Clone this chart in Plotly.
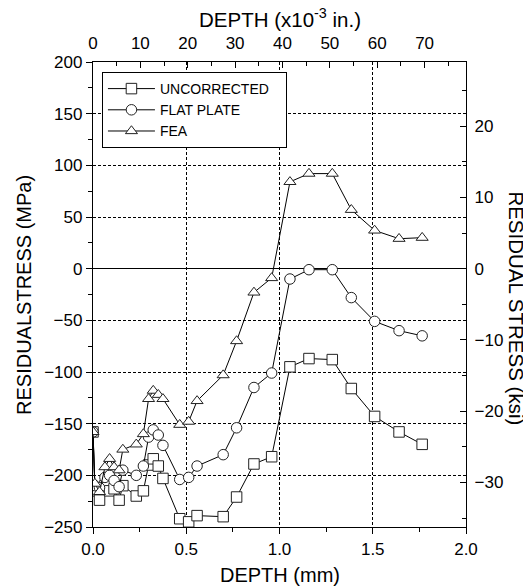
import plotly.graph_objects as go

# ---- data ----
depth_mm = [0, 0.01, 0.035, 0.064, 0.089, 0.113, 0.14, 0.16, 0.232, 0.27, 0.298, 0.323, 0.350, 0.375,
            0.465, 0.513, 0.558, 0.698, 0.770, 0.863, 0.958, 1.056, 1.158, 1.283, 1.385, 1.510, 1.641, 1.765]
uncorrected = [-158, -215, -224, -210, -215, -213, -224, -210, -220, -215, -190, -184, -191, -203,
               -242, -245, -239, -240, -221, -189, -182, -95, -87, -88, -116, -143, -158, -170]
flat_plate = [-158, -210, -212, -202, -200, -205, -211, -195, -200, -191, -163, -156, -161, -171,
              -204, -202, -191, -180, -154, -115, -101, -10, -1, -1, -28, -51, -60, -65]
fea = [-158, -208, -216, -192, -184, -192, -195, -175, -170, -160, -126, -118, -122, -126,
       -151, -148, -128, -103, -70, -23, -9, 84, 92, 92, 57, 37, 29, 30]

series_names = ["UNCORRECTED", "FLAT PLATE", "FEA"]
series_symbols = ["square", "circle", "triangle-up"]

x_range_mm = [0, 2.0]
y_range_mpa = [-250, 200]
MM_PER_MIL = 0.0254          # 1e-3 in = 0.0254 mm
MPA_PER_KSI = 6.894757

top_ticks = [0, 10, 20, 30, 40, 50, 60, 70]
right_ticks = [-30, -20, -10, 0, 10, 20]

FONT = "Liberation Sans, Arial, sans-serif"
PAD = "\u00a0" * 3   # widens the legend box a little, invisible

fig = go.Figure()
for name, sym, vals in zip(series_names, series_symbols, [uncorrected, flat_plate, fea]):
    fig.add_trace(go.Scatter(
        x=depth_mm, y=vals, name=name + PAD, mode="lines+markers",
        line=dict(color="black", width=1),
        marker=dict(symbol=sym, size=10.5, color="white",
                    line=dict(color="#222", width=1)),
    ))

# invisible traces to activate the secondary (unit-converted) axes
fig.add_trace(go.Scatter(x=[0], y=[0], xaxis="x2", yaxis="y", mode="markers",
                         marker=dict(opacity=0), showlegend=False, hoverinfo="skip"))
fig.add_trace(go.Scatter(x=[0], y=[0], xaxis="x", yaxis="y2", mode="markers",
                         marker=dict(opacity=0), showlegend=False, hoverinfo="skip"))

axis_common = dict(showline=True, linecolor="black", linewidth=1.3,
                   tickfont=dict(family=FONT, size=17, color="black"),
                   tickcolor="black", ticklen=6, tickwidth=1)

fig.update_layout(
    width=523, height=579,
    margin=dict(l=85, r=65, t=54, b=60),
    paper_bgcolor="white", plot_bgcolor="white",
    font=dict(family=FONT, color="black"),
    xaxis=dict(range=x_range_mm, dtick=0.5, tick0=0, tickformat=".1f", ticks="outside",
               showgrid=True, gridcolor="black", gridwidth=1, griddash="3px,2px",
               zeroline=False,
               minor=dict(dtick=0.25, ticks="outside", ticklen=4, tickcolor="black", showgrid=False),
               **axis_common),
    xaxis2=dict(range=[x_range_mm[0] / MM_PER_MIL, x_range_mm[1] / MM_PER_MIL],
                overlaying="x", side="top", anchor="y",
                tickvals=top_ticks, ticks="inside", showgrid=False, zeroline=False,
                ticklabelstandoff=5,
                minor=dict(dtick=5, tick0=0, ticks="inside", ticklen=4, tickcolor="black", showgrid=False),
                **axis_common),
    yaxis=dict(range=y_range_mpa, dtick=50, tick0=0, ticks="outside",
               showgrid=True, gridcolor="black", gridwidth=1, griddash="3px,2px",
               zeroline=True, zerolinecolor="black", zerolinewidth=1,
               minor=dict(dtick=25, ticks="outside", ticklen=4, tickcolor="black", showgrid=False),
               **axis_common),
    yaxis2=dict(range=[y_range_mpa[0] / MPA_PER_KSI, y_range_mpa[1] / MPA_PER_KSI],
                overlaying="y", side="right", anchor="x",
                tickvals=right_ticks, ticks="inside", showgrid=False, zeroline=False,
                ticklabelstandoff=4,
                minor=dict(dtick=5, tick0=0, ticks="inside", ticklen=4, tickcolor="black", showgrid=False),
                **axis_common),
    legend=dict(x=0.024, y=0.9785, xanchor="left", yanchor="top",
                bgcolor="white", bordercolor="black", borderwidth=1,
                font=dict(family=FONT, size=14, color="black"),
                itemwidth=47, tracegroupgap=0),
    showlegend=True,
)

ann_font = dict(family=FONT, size=20, color="black")
fig.add_annotation(text="DEPTH (mm)", xref="paper", yref="paper", x=0.5, y=-0.103,
                   showarrow=False, font=ann_font, xanchor="center", yanchor="middle")
fig.add_annotation(text="DEPTH (x10<sup>-3</sup> in.)", xref="paper", yref="paper", x=0.5, y=1.062,
                   showarrow=False, font=dict(family=FONT, size=20.5, color="black"),
                   xanchor="center", yanchor="bottom")
fig.add_annotation(text="RESIDUALSTRESS (MPa)", xref="paper", yref="paper", x=-0.185, y=0.499,
                   showarrow=False, font=ann_font, textangle=-90, xanchor="center", yanchor="middle")
fig.add_annotation(text="RESIDUAL STRESS (ksi)", xref="paper", yref="paper", x=1.133, y=0.471,
                   showarrow=False, font=dict(family=FONT, size=20.5, color="black"),
                   textangle=90, xanchor="center", yanchor="middle")

fig.write_html("out.html")
